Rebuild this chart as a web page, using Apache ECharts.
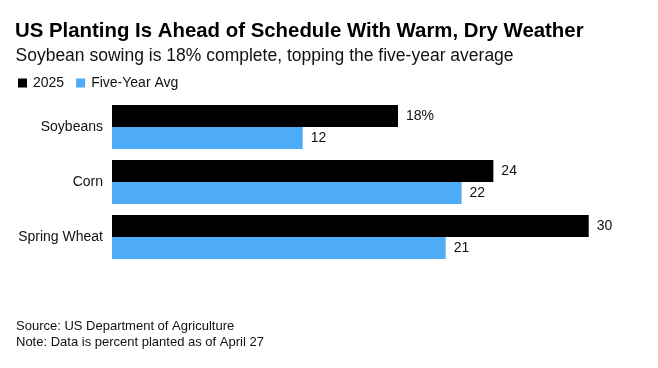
<!DOCTYPE html>
<html>
<head>
<meta charset="utf-8">
<script src="https://cdn.jsdelivr.net/npm/echarts@6/dist/echarts.min.js"></script>
<style>
  html, body { margin: 0; padding: 0; background: #fff; }
  #chart { width: 658px; height: 368px; }
</style>
</head>
<body>
<div id="chart"></div>
<script>
const titleText = 'US Planting Is Ahead of Schedule With Warm, Dry Weather';
const subtitleText = 'Soybean sowing is 18% complete, topping the five-year average';
const footerText = 'Source: US Department of Agriculture\nNote: Data is percent planted as of April 27';
const categories = ['Soybeans', 'Corn', 'Spring Wheat'];
const seriesNames = ['2025', 'Five-Year Avg'];
const values2025 = [18, 24, 30];
const valuesAvg = [12, 22, 21];

const FONT = '"Liberation Sans", Arial, Helvetica, sans-serif';
const chart = echarts.init(document.getElementById('chart'), null, { renderer: 'canvas' });

chart.setOption({
  animation: false,
  backgroundColor: '#ffffff',
  textStyle: { fontFamily: FONT },
  graphic: [
    { type: 'text', x: 15, y: 31,
      style: { text: titleText, font: 'bold 20.4px ' + FONT, fill: '#000', verticalAlign: 'middle', align: 'left' } },
    { type: 'text', x: 15.5, y: 56,
      style: { text: subtitleText, font: '17.5px ' + FONT, fill: '#111', verticalAlign: 'middle', align: 'left' } },
    { type: 'text', x: 16, y: 318,
      style: { text: footerText, font: '13px ' + FONT, fill: '#111', lineHeight: 16, verticalAlign: 'top', align: 'left' } }
  ],
  legend: {
    left: 18, top: 76, padding: 0,
    icon: 'rect', itemWidth: 9, itemHeight: 9, itemGap: 12,
    textStyle: { fontSize: 14, color: '#111', fontFamily: FONT, padding: [0, 0, 0, 1] },
    data: seriesNames
  },
  grid: { left: 112, top: 99.5, height: 165, right: 69.3, containLabel: false },
  xAxis: { type: 'value', min: 0, max: 30, show: false },
  yAxis: {
    type: 'category', data: categories, inverse: true,
    axisLine: { show: false }, axisTick: { show: false }, splitLine: { show: false },
    axisLabel: { margin: 9, fontSize: 14, color: '#111', fontFamily: FONT }
  },
  series: [
    { name: seriesNames[0], type: 'bar', data: values2025, barWidth: 22, barGap: '0%',
      itemStyle: { color: '#000000' },
      label: { show: true, position: 'right', distance: 8, fontSize: 14, color: '#111', fontFamily: FONT,
        formatter: p => p.dataIndex === 0 ? p.value + '%' : String(p.value) } },
    { name: seriesNames[1], type: 'bar', data: valuesAvg, barWidth: 22, barGap: '0%',
      itemStyle: { color: '#4eabf6' },
      label: { show: true, position: 'right', distance: 8, fontSize: 14, color: '#111', fontFamily: FONT } }
  ]
});
</script>
</body>
</html>
